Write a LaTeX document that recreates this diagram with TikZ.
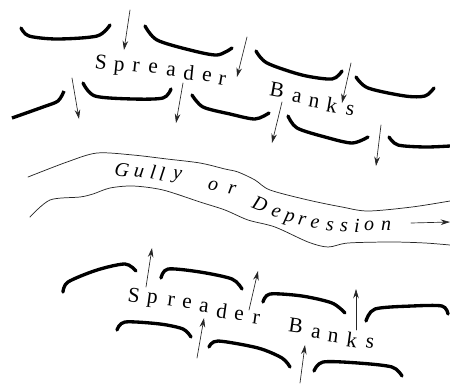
\documentclass[tikz,border=0pt]{standalone}
\usepackage{tikz}
\usepackage{fontspec}
\setmainfont{Liberation Serif}
\usetikzlibrary{arrows.meta}
\tikzset{
  bank/.style={line width=2.5pt,line cap=round,line join=round},
  flow/.style={-{Stealth[length=7pt,width=4.2pt]},line width=0.5pt,black!85},
  gully/.style={line width=0.55pt,black!85},
  letter/.style={inner sep=0pt,font=\fontsize{16}{18}\selectfont},
  gletter/.style={inner sep=0pt,font=\fontsize{15}{17}\selectfont\itshape},
}
\begin{document}
\begin{tikzpicture}[x=0.75pt,y=-0.75pt,line cap=round]
\useasboundingbox (0,0) rectangle (450,383);
% upper banks
\draw[bank] plot[smooth,tension=0.5] coordinates {(21,28) (29,36) (57,39) (97,36) (110,25)};
\draw[bank] plot[smooth,tension=0.5] coordinates {(145,26) (157,40) (190,50) (217,55) (232,48)};
\draw[bank] plot[smooth,tension=0.5] coordinates {(256,51) (267,63) (302,75) (332,79) (342,71)};
\draw[bank] plot[smooth,tension=0.5] coordinates {(356,77) (368,88) (405,96) (425,96) (434,88)};
\draw[bank,line cap=butt] plot[smooth,tension=0.5] coordinates {(12,118) (43,107) (58,101) (64,91)};
\draw[bank] plot[smooth,tension=0.5] coordinates {(83,83) (95,96) (133,99) (163,98) (171,89)};
\draw[bank] plot[smooth,tension=0.5] coordinates {(192,95) (203,107) (230,114) (255,119) (269,113)};
\draw[bank] plot[smooth,tension=0.5] coordinates {(288,116) (297,128) (325,137) (352,143) (368,137)};
\draw[bank] plot[smooth,tension=0.5] coordinates {(389,137) (398,145) (425,147) (450,146)};
% lower banks
\draw[bank] plot[smooth,tension=0.5] coordinates {(63,292) (68,282) (97,270) (125,264) (136,271)};
\draw[bank] plot[smooth,tension=0.5] coordinates {(161,278) (168,269) (200,272) (232,279) (242,289)};
\draw[bank] plot[smooth,tension=0.5] coordinates {(263,302) (270,294) (302,296) (332,303) (345,313)};
\draw[bank] plot[smooth,tension=0.5] coordinates {(366,321) (375,309) (412,306) (442,306) (448,314)};
\draw[bank] plot[smooth,tension=0.5] coordinates {(117,330) (125,322) (160,324) (183,329) (191,337)};
\draw[bank] plot[smooth,tension=0.5] coordinates {(209,347) (218,341) (258,348) (282,358) (290,367)};
\draw[bank] plot[smooth,tension=0.5] coordinates {(314,371) (323,362) (358,363) (392,367) (402,376)};
% flow arrows
\draw[flow] (130,10) -- (124,50);
\draw[flow] (247,37) -- (237,77);
\draw[flow] (351,63) -- (342,103);
\draw[flow] (72,78) -- (79,119);
\draw[flow] (183,83) -- (176,123);
\draw[flow] (282,102) -- (272,143);
\draw[flow] (381,125) -- (376,166);
\draw[flow] (146,287) -- (152,248);
\draw[flow] (197,358) -- (204,318);
\draw[flow] (249,310) -- (258,271);
\draw[flow] (356,330) -- (356,289);
\draw[flow] (300,383) -- (305,345);
\draw[flow] (411,223) -- (450,222);
% gully edges
\draw[gully] plot[smooth,tension=0.5] coordinates {(28,177) (67,162) (97,153) (133,155) (167,159) (200,163) (225,169) (238,172) (255,180) (270,190) (308,200) (342,207) (368,211) (412,207) (450,201)};
\draw[gully] plot[smooth,tension=0.5] coordinates {(30,217) (50,200) (80,197) (93,194) (110,188) (133,186) (163,190) (200,202) (225,210) (248,220) (275,227) (308,242) (328,247) (348,243) (392,242) (425,243) (450,245)};
% upper label
\node[letter,rotate=-6] (ua1) at (101,62) {S};
\node[letter,rotate=-6] (ua2) at (119,68) {p};
\node[letter,rotate=-6] (ua3) at (136,67) {r};
\node[letter,rotate=-6] (ua4) at (153,68) {e};
\node[letter,rotate=-6] (ua5) at (171,71) {a};
\node[letter,rotate=-6] (ua6) at (189,73) {d};
\node[letter,rotate=-10] (ua7) at (207,76) {e};
\node[letter,rotate=-10] (ua8) at (222,80) {r};
\node[letter,rotate=-10] (ub1) at (277,90) {B};
\node[letter,rotate=-10] (ub2) at (297,97) {a};
\node[letter,rotate=-10] (ub3) at (314,102) {n};
\node[letter,rotate=-10] (ub4) at (332,105) {k};
\node[letter,rotate=-10] (ub5) at (350,110) {s};
% gully label
\node[gletter,rotate=-8] (g1) at (122,170) {G};
\node[gletter,rotate=-8] (g2) at (139,173) {u};
\node[gletter,rotate=-8] (g3) at (153,172) {l};
\node[gletter,rotate=-8] (g4) at (162,174) {l};
\node[gletter,rotate=-8] (g5) at (177,177) {y};
\node[gletter,rotate=-10] (o1) at (213,186) {o};
\node[gletter,rotate=-10] (o2) at (232,190) {r};
\node[gletter,rotate=-22] (d1) at (260,204) {D};
\node[gletter,rotate=-18] (d2) at (276,212) {e};
\node[gletter,rotate=-14] (d3) at (289,219) {p};
\node[gletter,rotate=-10] (d4) at (302,221) {r};
\node[gletter,rotate=-8] (d5) at (315,224) {e};
\node[gletter,rotate=-5] (d6) at (330,226) {s};
\node[gletter,rotate=-3] (d7) at (344,227) {s};
\node[gletter] (d8) at (357,226) {i};
\node[gletter] (d9) at (369,226) {o};
\node[gletter] (d10) at (386,226) {n};
% lower label
\node[letter,rotate=-8] (la1) at (134,295) {S};
\node[letter,rotate=-8] (la2) at (152,301) {p};
\node[letter,rotate=-8] (la3) at (171,301) {r};
\node[letter,rotate=-8] (la4) at (187,303) {e};
\node[letter,rotate=-8] (la5) at (204,307) {a};
\node[letter,rotate=-8] (la6) at (222,311) {d};
\node[letter,rotate=-8] (la7) at (239,315) {e};
\node[letter,rotate=-8] (la8) at (256,319) {r};
\node[letter,rotate=-8] (lb1) at (296,326) {B};
\node[letter,rotate=-8] (lb2) at (316,333) {a};
\node[letter,rotate=-8] (lb3) at (333,337) {n};
\node[letter,rotate=-8] (lb4) at (352,340) {k};
\node[letter,rotate=-8] (lb5) at (370,343) {s};
\end{tikzpicture}
\end{document}
